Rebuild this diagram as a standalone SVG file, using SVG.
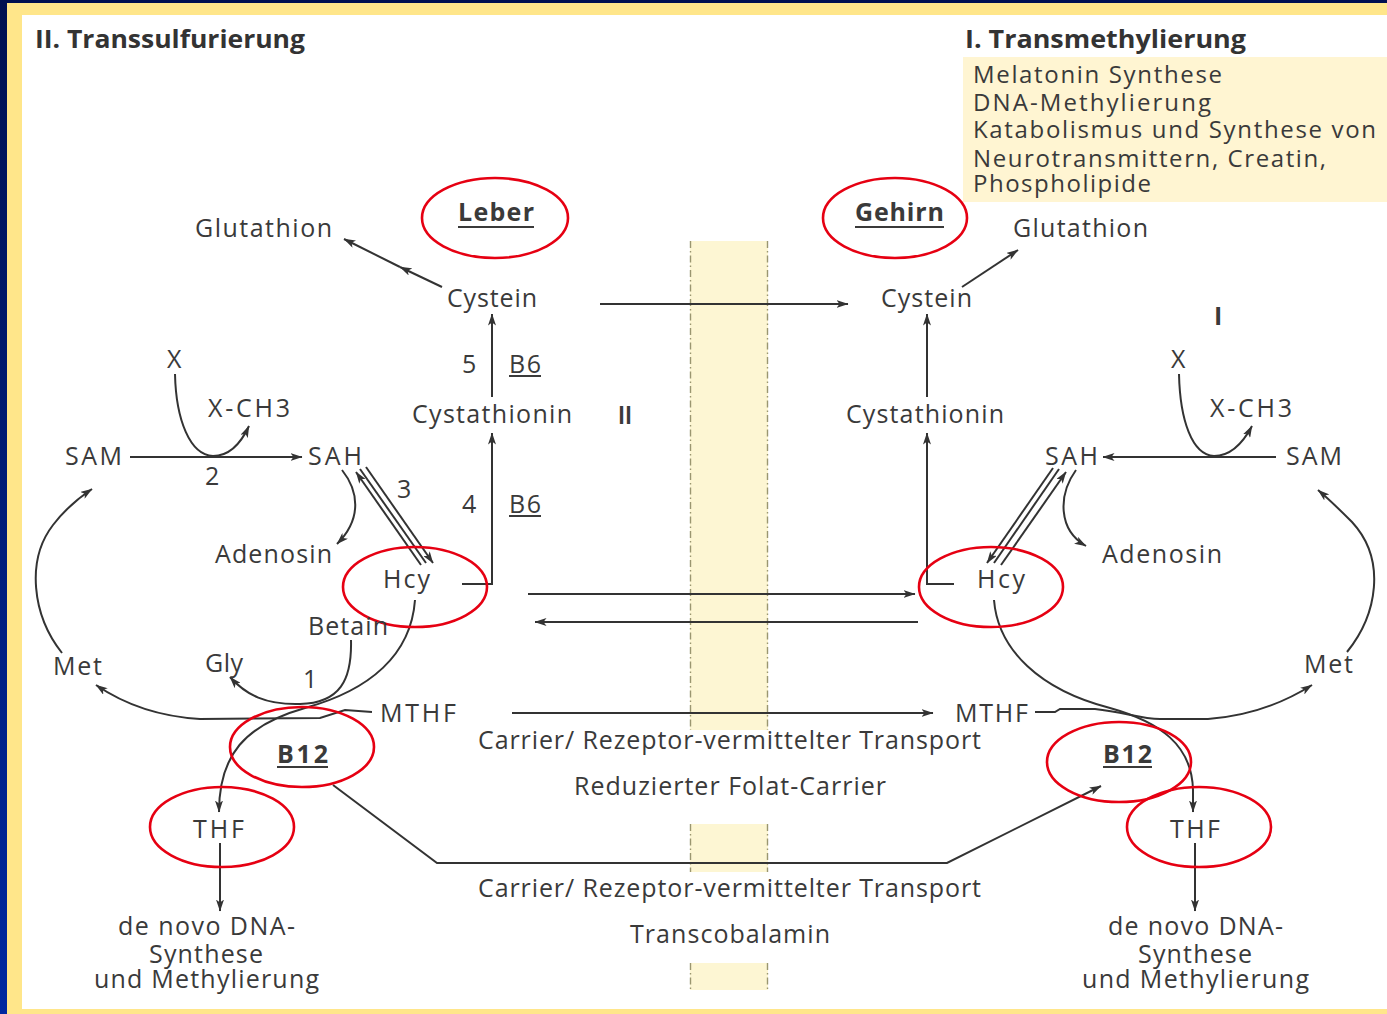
<svg xmlns="http://www.w3.org/2000/svg" width="1387" height="1014" viewBox="0 0 1387 1014">
<defs>
<linearGradient id="navy" x1="0" y1="0" x2="0" y2="1">
<stop offset="0" stop-color="#001050"/>
<stop offset="1" stop-color="#0028a0"/>
</linearGradient>
<marker id="ah" viewBox="0 0 12 8" refX="11.5" refY="4" markerWidth="12" markerHeight="8" orient="auto" markerUnits="userSpaceOnUse">
<path d="M0,0 L12,4 L0,8 L3,4 z" fill="#333"/>
</marker>
<style>
.t{font-family:"Open Sans","Liberation Sans",sans-serif;font-size:25px;fill:#3a3a3a}
.b{font-weight:bold}
.h{font-size:25px;font-weight:bold;fill:#333}
.bx{font-size:24px}
.c{fill:none;stroke:#333;stroke-width:2}
.a{marker-end:url(#ah)}
.r{fill:none;stroke:#e60012;stroke-width:2.6}
.u{stroke:#3a3a3a;stroke-width:2}
.band{fill:#fdf6d3}
.bd{stroke:#9a9670;stroke-width:1.4;stroke-dasharray:7,3,1.5,3}
</style>
</defs>

<!-- frame -->
<rect x="0" y="0" width="1387" height="1014" fill="url(#navy)"/>
<rect x="7" y="3" width="1380" height="1011" fill="#ffe68a"/>
<rect x="22" y="15" width="1365" height="994" fill="#ffffff"/>

<!-- membrane band -->
<g id="band">
<rect class="band" x="690" y="241" width="78" height="489"/>
<rect class="band" x="690" y="824" width="78" height="48"/>
<rect class="band" x="690" y="963" width="78" height="27"/>
<line class="bd" x1="690.5" y1="241" x2="690.5" y2="730"/>
<line class="bd" x1="767.5" y1="241" x2="767.5" y2="730"/>
<line class="bd" x1="690.5" y1="824" x2="690.5" y2="872"/>
<line class="bd" x1="767.5" y1="824" x2="767.5" y2="872"/>
<line class="bd" x1="690.5" y1="963" x2="690.5" y2="990"/>
<line class="bd" x1="767.5" y1="963" x2="767.5" y2="990"/>
</g>

<!-- titles -->
<g id="title-left"><text class="t h" x="35" y="48" textLength="270" lengthAdjust="spacingAndGlyphs">II. Transsulfurierung</text></g>
<g id="title-right"><text class="t h" x="965" y="48" textLength="281" lengthAdjust="spacingAndGlyphs">I. Transmethylierung</text></g>

<g id="info-box">
<rect x="963" y="57" width="424" height="145" fill="#fff5d2"/>
<text class="t bx" x="973" y="83" textLength="249" lengthAdjust="spacing">Melatonin Synthese</text>
<text class="t bx" x="973" y="111" textLength="238" lengthAdjust="spacing">DNA-Methylierung</text>
<text class="t bx" x="973" y="138" textLength="403" lengthAdjust="spacing">Katabolismus und Synthese von</text>
<text class="t bx" x="973" y="167" textLength="353" lengthAdjust="spacing">Neurotransmittern, Creatin,</text>
<text class="t bx" x="973" y="192" textLength="178" lengthAdjust="spacing">Phospholipide</text>
</g>

<!-- connectors -->
<g id="connectors">
<path class="c a" d="M442,287 L400,267"/>
<path class="c a" d="M400,267 L344,239"/>
<path class="c a" d="M962,287 L1018,250"/>
<path class="c a" d="M600,304 L848,304"/>
<path class="c a" d="M492,397 L492,314"/>
<path class="c a" d="M462,584 L492,584 L492,433"/>
<path class="c a" d="M927,397 L927,314"/>
<path class="c a" d="M954,584 L927,584 L927,433"/>
<path class="c a" d="M528,594 L915,594"/>
<path class="c a" d="M918,622 L535,622"/>
<path class="c a" d="M512,713 L933,713"/>
<path class="c a" d="M333,785 L437,863 L947,863 L1101,786"/>
<path class="c a" d="M220,843 L220,911"/>
<path class="c a" d="M1195,843 L1195,911"/>

<!-- left cycle -->
<path class="c a" d="M175,374 C176,420 190,455 213,456 C231,456 242,441 249,426"/>
<path class="c a" d="M130,457 L302,457"/>
<path class="c a" d="M342,470 C358,490 363,518 337,544"/>
<path class="c a" d="M366,467 L433,563"/>
<path class="c" d="M360,469 L426,563"/>
<path class="c a" d="M421,565 L356,472"/>
<path class="c a" d="M415,600 C411,655 370,690 305,708 C245,725 219,755 219,812"/>
<path class="c a" d="M351,640 C352,680 340,703 300,704 C266,705 246,695 230,677"/>
<path class="c a" d="M372,712 L345,710 L320,718 L200,719 C150,716 118,700 96,685"/>
<path class="c a" d="M62,653 C32,615 26,560 53,525 C66,508 80,497 92,489"/>

<!-- right cycle -->
<path class="c a" d="M1179,374 C1180,420 1192,455 1214,456 C1232,456 1244,441 1252,426"/>
<path class="c a" d="M1276,457 L1103,457"/>
<path class="c a" d="M1076,470 C1058,495 1058,530 1086,546"/>
<path class="c a" d="M1053,468 L987,563"/>
<path class="c" d="M1059,469 L994,563"/>
<path class="c a" d="M1001,565 L1066,472"/>
<path class="c a" d="M994,600 C998,650 1040,690 1110,708 C1160,722 1192,745 1193,790 L1193,812"/>
<path class="c a" d="M1035,712 L1055,712 L1060,709 L1095,709 C1125,712 1140,719 1160,719 L1208,719 C1250,716 1285,702 1312,685"/>
<path class="c a" d="M1347,652 C1377,615 1387,560 1352,522 C1340,510 1330,500 1318,490"/>
</g>

<!-- nodes left -->
<g id="leber"><ellipse class="r" cx="495" cy="218" rx="73" ry="40"/><text class="t b" x="458" y="221" textLength="76" lengthAdjust="spacing">Leber</text><line class="u" x1="458" y1="227" x2="534" y2="227"/></g>
<g id="glutathion-l"><text class="t" x="195" y="237" textLength="137" lengthAdjust="spacing">Glutathion</text></g>
<g id="cystein-l"><text class="t" x="447" y="307" textLength="90" lengthAdjust="spacing">Cystein</text></g>
<g id="step5"><text class="t" x="462" y="373">5</text><text class="t" x="509" y="373" textLength="32" lengthAdjust="spacing">B6</text><line class="u" x1="509" y1="376" x2="541" y2="376"/></g>
<g id="cystathionin-l"><text class="t" x="412" y="423" textLength="160" lengthAdjust="spacing">Cystathionin</text></g>
<g id="label-II"><text class="t b" x="618" y="424" textLength="14" lengthAdjust="spacingAndGlyphs">II</text></g>
<g id="step4"><text class="t" x="462" y="513">4</text><text class="t" x="509" y="513" textLength="32" lengthAdjust="spacing">B6</text><line class="u" x1="509" y1="516" x2="541" y2="516"/></g>
<g id="x-l"><text class="t" x="167" y="368">X</text></g>
<g id="xch3-l"><text class="t" x="208" y="417" textLength="82" lengthAdjust="spacing">X-CH3</text></g>
<g id="sam-l"><text class="t" x="65" y="465" textLength="57" lengthAdjust="spacing">SAM</text></g>
<g id="sah-l"><text class="t" x="308" y="465" textLength="54" lengthAdjust="spacing">SAH</text></g>
<g id="step2"><text class="t" x="205" y="485">2</text></g>
<g id="step3"><text class="t" x="397" y="498">3</text></g>
<g id="adenosin-l"><text class="t" x="215" y="563" textLength="117" lengthAdjust="spacing">Adenosin</text></g>
<g id="hcy-l"><ellipse class="r" cx="415" cy="587" rx="72" ry="40"/><text class="t" x="383" y="588" textLength="47" lengthAdjust="spacing">Hcy</text></g>
<g id="betain"><text class="t" x="308" y="635" textLength="80" lengthAdjust="spacing">Betain</text></g>
<g id="gly"><text class="t" x="205" y="672" textLength="38" lengthAdjust="spacing">Gly</text></g>
<g id="step1"><text class="t" x="303" y="688">1</text></g>
<g id="met-l"><text class="t" x="53" y="675" textLength="49" lengthAdjust="spacing">Met</text></g>
<g id="mthf-l"><text class="t" x="380" y="722" textLength="76" lengthAdjust="spacing">MTHF</text></g>
<g id="b12-l"><ellipse class="r" cx="302" cy="747" rx="72" ry="40"/><text class="t b" x="277" y="763" textLength="51" lengthAdjust="spacing">B12</text><line class="u" x1="277" y1="767" x2="328" y2="767"/></g>
<g id="thf-l"><ellipse class="r" cx="222" cy="827" rx="72" ry="40"/><text class="t" x="193" y="838" textLength="51" lengthAdjust="spacing">THF</text></g>
<g id="dna-l">
<text class="t" x="118" y="935" textLength="177" lengthAdjust="spacing">de novo DNA-</text>
<text class="t" x="149" y="963" textLength="114" lengthAdjust="spacing">Synthese</text>
<text class="t" x="94" y="988" textLength="225" lengthAdjust="spacing">und Methylierung</text>
</g>

<!-- center labels -->
<g id="transport-folat">
<text class="t" x="478" y="749" textLength="503" lengthAdjust="spacing">Carrier/ Rezeptor-vermittelter Transport</text>
<text class="t" x="574" y="795" textLength="312" lengthAdjust="spacing">Reduzierter Folat-Carrier</text>
</g>
<g id="transport-b12">
<text class="t" x="478" y="897" textLength="503" lengthAdjust="spacing">Carrier/ Rezeptor-vermittelter Transport</text>
<text class="t" x="630" y="943" textLength="200" lengthAdjust="spacing">Transcobalamin</text>
</g>

<!-- nodes right -->
<g id="gehirn"><ellipse class="r" cx="895" cy="218" rx="72" ry="40"/><text class="t b" x="855" y="221" textLength="89" lengthAdjust="spacing">Gehirn</text><line class="u" x1="855" y1="227" x2="944" y2="227"/></g>
<g id="glutathion-r"><text class="t" x="1013" y="237" textLength="135" lengthAdjust="spacing">Glutathion</text></g>
<g id="cystein-r"><text class="t" x="881" y="307" textLength="91" lengthAdjust="spacing">Cystein</text></g>
<g id="label-I"><text class="t b" x="1214" y="325">I</text></g>
<g id="cystathionin-r"><text class="t" x="846" y="423" textLength="158" lengthAdjust="spacing">Cystathionin</text></g>
<g id="x-r"><text class="t" x="1171" y="368">X</text></g>
<g id="xch3-r"><text class="t" x="1210" y="417" textLength="82" lengthAdjust="spacing">X-CH3</text></g>
<g id="sam-r"><text class="t" x="1286" y="465" textLength="56" lengthAdjust="spacing">SAM</text></g>
<g id="sah-r"><text class="t" x="1045" y="465" textLength="53" lengthAdjust="spacing">SAH</text></g>
<g id="adenosin-r"><text class="t" x="1102" y="563" textLength="120" lengthAdjust="spacing">Adenosin</text></g>
<g id="hcy-r"><ellipse class="r" cx="991" cy="587" rx="72" ry="40"/><text class="t" x="977" y="588" textLength="48" lengthAdjust="spacing">Hcy</text></g>
<g id="met-r"><text class="t" x="1304" y="673" textLength="49" lengthAdjust="spacing">Met</text></g>
<g id="mthf-r"><text class="t" x="955" y="722" textLength="73" lengthAdjust="spacing">MTHF</text></g>
<g id="b12-r"><ellipse class="r" cx="1119" cy="762" rx="72" ry="40"/><text class="t b" x="1103" y="763" textLength="49" lengthAdjust="spacing">B12</text><line class="u" x1="1103" y1="767" x2="1152" y2="767"/></g>
<g id="thf-r"><ellipse class="r" cx="1199" cy="827" rx="72" ry="40"/><text class="t" x="1170" y="838" textLength="50" lengthAdjust="spacing">THF</text></g>
<g id="dna-r">
<text class="t" x="1108" y="935" textLength="175" lengthAdjust="spacing">de novo DNA-</text>
<text class="t" x="1138" y="963" textLength="114" lengthAdjust="spacing">Synthese</text>
<text class="t" x="1082" y="988" textLength="227" lengthAdjust="spacing">und Methylierung</text>
</g>
</svg>
